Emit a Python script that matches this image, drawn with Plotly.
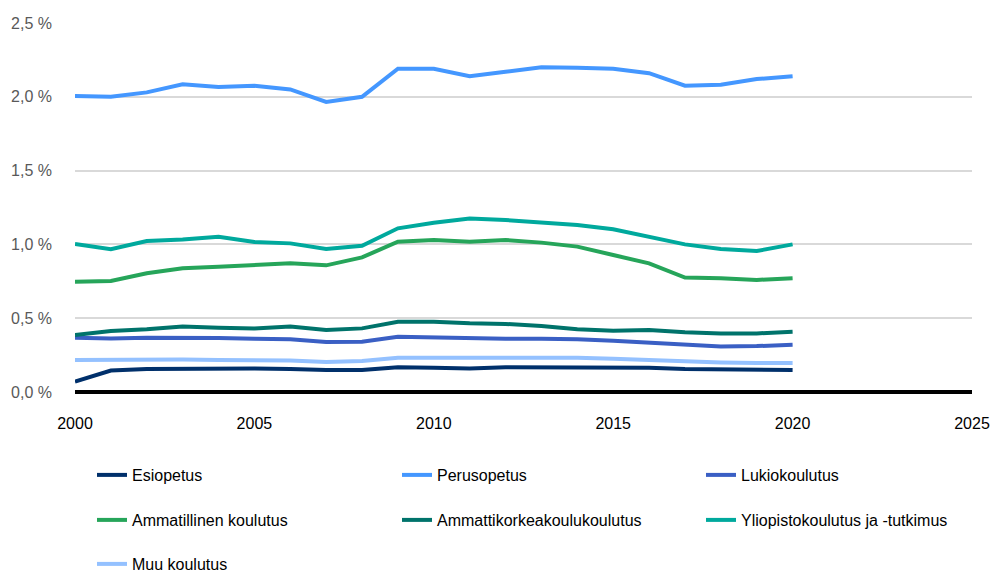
import plotly.graph_objects as go

years = list(range(2000, 2021))

esiopetus = [0.070, 0.145, 0.156, 0.158, 0.158, 0.160, 0.156, 0.149, 0.149, 0.167, 0.165,
             0.160, 0.167, 0.167, 0.167, 0.166, 0.165, 0.156, 0.154, 0.154, 0.149]
perusopetus = [2.005, 2.000, 2.030, 2.085, 2.066, 2.075, 2.050, 1.965, 2.000, 2.190, 2.190,
               2.140, 2.170, 2.200, 2.197, 2.190, 2.160, 2.075, 2.082, 2.120, 2.140]
lukio = [0.368, 0.363, 0.368, 0.370, 0.366, 0.361, 0.357, 0.339, 0.341, 0.375, 0.370,
         0.361, 0.361, 0.361, 0.358, 0.348, 0.334, 0.318, 0.309, 0.311, 0.320]
ammatillinen = [0.747, 0.752, 0.804, 0.838, 0.849, 0.860, 0.872, 0.858, 0.912, 1.018, 1.030,
                1.018, 1.030, 1.012, 0.985, 0.928, 0.872, 0.775, 0.771, 0.759, 0.771]
amk = [0.386, 0.413, 0.425, 0.443, 0.436, 0.431, 0.443, 0.420, 0.431, 0.476, 0.476,
       0.465, 0.461, 0.447, 0.425, 0.415, 0.420, 0.404, 0.397, 0.397, 0.408]
yliopisto = [1.003, 0.967, 1.023, 1.034, 1.052, 1.016, 1.007, 0.969, 0.991, 1.109, 1.147,
             1.176, 1.165, 1.150, 1.131, 1.102, 1.052, 1.000, 0.969, 0.955, 1.000]
muu = [0.217, 0.220, 0.220, 0.220, 0.217, 0.216, 0.213, 0.203, 0.210, 0.232, 0.232,
       0.230, 0.235, 0.235, 0.232, 0.225, 0.217, 0.203, 0.200, 0.196, 0.196]

series_names = ["Esiopetus", "Perusopetus", "Lukiokoulutus", "Ammatillinen koulutus",
                "Ammattikorkeakoulukoulutus", "Yliopistokoulutus ja -tutkimus", "Muu koulutus"]
series_values = [esiopetus, perusopetus, lukio, ammatillinen, amk, yliopisto, muu]
series_colors = ["#00306b", "#4497ff", "#3a5fc4", "#26a55a", "#00736b", "#00a99d", "#94c1ff"]

y_tickvals = [0, 0.5, 1.0, 1.5, 2.0, 2.5]
y_ticktext = ["0,0 %", "0,5 %", "1,0 %", "1,5 %", "2,0 %", "2,5 %"]
x_tickvals = [2000, 2005, 2010, 2015, 2020, 2025]

FONT = "Liberation Sans, Arial, sans-serif"

# legend grid: 3 columns, 3 rows (pixel anchors in the figure container)
col_x = [84, 389, 693]
row_top = [450, 495, 539]

fig = go.Figure()
legend_layouts = {}
for i, (name, vals, col) in enumerate(zip(series_names, series_values, series_colors)):
    key = "legend" if i == 0 else f"legend{i + 1}"
    fig.add_trace(go.Scatter(x=years, y=vals, mode="lines", name=name,
                             line=dict(color=col, width=4), legend=key))
    legend_layouts[key] = dict(
        orientation="h", xref="container", yref="container",
        x=col_x[i % 3] / 1002, xanchor="left",
        y=1 - row_top[i // 3] / 574, yanchor="top",
        itemwidth=30, font=dict(family=FONT, size=16, color="black"),
        bgcolor="rgba(0,0,0,0)")

fig.update_layout(
    width=1002, height=574,
    margin=dict(l=67, r=38, t=15, b=190, autoexpand=False),
    plot_bgcolor="white", paper_bgcolor="white",
    font=dict(family=FONT, size=16, color="black"),
    xaxis=dict(range=[2000, 2025], tickvals=x_tickvals, showgrid=False,
               zeroline=False, showline=False, ticks="", ticklabelstandoff=20,
               tickfont=dict(family=FONT, size=16, color="black")),
    yaxis=dict(range=[0, 2.5], tickvals=y_tickvals, ticktext=y_ticktext,
               showgrid=True, gridcolor="#d9d9d9", gridwidth=1.5,
               zeroline=True, zerolinecolor="black", zerolinewidth=4,
               showline=False, ticks="", ticklabelstandoff=22,
               tickfont=dict(family=FONT, size=16, color="#595959")),
    showlegend=True,
    **legend_layouts,
)

fig.write_html("out.html")
